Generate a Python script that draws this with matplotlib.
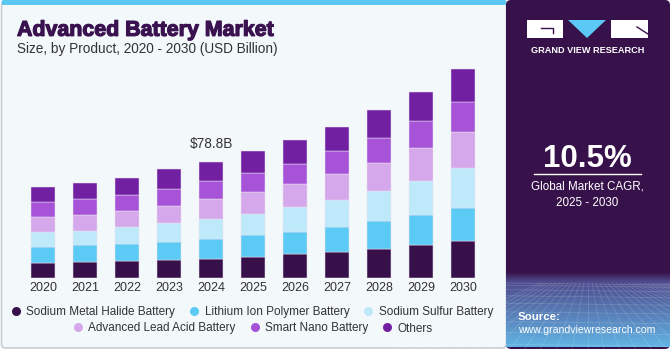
import matplotlib
matplotlib.use("Agg")
import matplotlib.pyplot as plt
from matplotlib.patches import FancyBboxPatch, Rectangle, Polygon
from matplotlib.lines import Line2D
import matplotlib.patheffects as pe
import numpy as np

# ---------------- data ----------------
years = ["2020", "2021", "2022", "2023", "2024", "2025", "2026", "2027", "2028", "2029", "2030"]
series_names = ["Sodium Metal Halide Battery", "Lithium Ion Polymer Battery", "Sodium Sulfur Battery",
                "Advanced Lead Acid Battery", "Smart Nano Battery", "Others"]
sodium_metal_halide = [10.1, 10.8, 11.5, 12.4, 13.0, 14.4, 16.2, 17.8, 19.6, 22.3, 25.2]
lithium_ion_polymer = [11.3, 11.5, 11.5, 12.2, 13.7, 14.9, 15.1, 16.9, 18.9, 20.7, 22.3]
sodium_sulfur = [9.9, 9.9, 11.5, 12.8, 13.5, 14.2, 16.9, 18.2, 20.3, 22.7, 26.8]
advanced_lead_acid = [9.9, 10.6, 10.8, 11.7, 13.1, 14.6, 15.3, 17.3, 19.1, 22.3, 24.8]
smart_nano = [10.3, 10.6, 10.8, 11.2, 12.4, 12.8, 13.7, 15.8, 16.9, 18.0, 19.8]
others = [10.3, 10.8, 11.9, 13.3, 13.1, 15.1, 16.2, 16.0, 18.7, 19.6, 22.3]
series_colors = ["#37104A", "#5BCBF5", "#BDE9FA", "#D5A8EC", "#A653D8", "#7020A0"]
annotated_year = "2024"
annotated_label = r"\$78.8B"
cagr_text = "10.5%"

series_values = [sodium_metal_halide, lithium_ion_polymer, sodium_sulfur,
                 advanced_lead_acid, smart_nano, others]

W, H = 671, 350
fig = plt.figure(figsize=(W / 100, H / 100), dpi=100)
fig.patch.set_facecolor("white")

# background / decoration axes in pixel coordinates
bg = fig.add_axes([0, 0, 1, 1])
bg.set_xlim(0, W)
bg.set_ylim(H, 0)
bg.axis("off")

FONT = "Liberation Sans"

# main panel
bg.add_patch(FancyBboxPatch((1.5, 2), 505, 346, boxstyle="round,pad=0,rounding_size=4",
                            facecolor="#F3F8FB", edgecolor="#C9CDD2", linewidth=1.2, zorder=1))
bg.add_patch(FancyBboxPatch((1.5, 0), 505, 5, boxstyle="round,pad=0,rounding_size=2",
                            facecolor="#5BC8F2", edgecolor="none", zorder=2))

# right panel
bg.add_patch(FancyBboxPatch((506, 0), 164, 349, boxstyle="round,pad=0,rounding_size=5",
                            facecolor="#37114A", edgecolor="none", zorder=2))
# gradient at bottom of right panel
grad = np.linspace(0, 1, 100)
c0 = np.array([0x37, 0x11, 0x4A]) / 255
c1 = np.array([0x4E, 0x4A, 0x8C]) / 255
c2 = np.array([0x62, 0xB4, 0xE4]) / 255
rows = []
for t in grad:
    if t < 0.12:
        rows.append(c0 + (c1 - c0) * (t / 0.12))
    else:
        rows.append(c1 + (c2 - c1) * ((t - 0.12) / 0.88))
img = np.array(rows)[:, None, :].repeat(2, axis=1)
bg.imshow(img, extent=(506, 670, 347, 272), aspect="auto", zorder=3, interpolation="bilinear")
# perspective grid
for k in range(-12, 25):
    x0 = 588 + k * 4
    x1 = 588 + k * 16
    bg.plot([x0, x1], [283, 350], color="white", alpha=0.18, lw=0.5, zorder=4)
for j in range(10):
    yy = 283 + (j ** 1.6) * 2.2
    bg.plot([506, 670], [yy, yy + 2], color="white", alpha=0.18, lw=0.5, zorder=4)
bg.add_patch(Rectangle((669.5, 0), 2, 350, facecolor="white", edgecolor="none", zorder=5))
bg.add_patch(Rectangle((506, 348.5), 166, 2, facecolor="white", edgecolor="none", zorder=5))

# logo
bg.add_patch(Rectangle((527, 20), 36, 18, facecolor="white", edgecolor="none", zorder=6))
bg.plot([541, 553, 553], [28, 28, 33], color="#37114A", lw=1.0, zorder=7)
bg.add_patch(Polygon([(568, 20), (606, 20), (587, 38)], closed=True, facecolor="#5BC8F5",
                     edgecolor="none", zorder=6))
bg.add_patch(Rectangle((611, 20), 37, 18, facecolor="white", edgecolor="none", zorder=6))
bg.plot([637, 648], [27, 34], color="#37114A", lw=1.0, zorder=7)
bg.text(587.5, 53.3, "GRAND VIEW RESEARCH", color="white", fontsize=6.6, fontweight="bold",
        family=FONT, ha="center", va="baseline", zorder=7)

# CAGR
bg.text(587.5, 166.7, cagr_text, color="white", fontsize=22.5, fontweight="bold", family=FONT,
        ha="center", va="baseline", zorder=7)
bg.plot([534, 641], [173.5, 173.5], color="white", lw=1.0, zorder=7)
bg.text(587.5, 189.5, "Global Market CAGR,", color="white", fontsize=8.4, family=FONT,
        ha="center", va="baseline", zorder=7)
bg.text(587.5, 205.7, "2025 - 2030", color="white", fontsize=8.4, family=FONT,
        ha="center", va="baseline", zorder=7)
bg.text(518, 320, "Source:", color="white", fontsize=8.2, fontweight="bold", family=FONT,
        ha="left", va="baseline", zorder=7)
bg.text(518, 333, "www.grandviewresearch.com", color="white", fontsize=7.6, family=FONT,
        ha="left", va="baseline", zorder=7)

# titles
bg.text(17, 35.8, "Advanced Battery Market", color="#3A1250", fontsize=15.4, fontweight="bold",
        family=FONT, ha="left", va="baseline", zorder=7,
        path_effects=[pe.withStroke(linewidth=0.9, foreground="#3A1250")])
bg.text(17, 53.3, "Size, by Product, 2020 - 2030 (USD Billion)", color="#333333", fontsize=9.8,
        family=FONT, ha="left", va="baseline", zorder=7)

# ---------------- chart ----------------
ax = fig.add_axes([22 / W, (H - 278.3) / H, 462 / W, 222 / H])
ax.set_facecolor("none")
x = np.arange(len(years))
bottom = np.zeros(len(years))
for name, vals, col in zip(series_names, series_values, series_colors):
    ax.bar(x, vals, bottom=bottom, width=0.57, color=col, edgecolor="#E8E0F0",
           linewidth=0.35, label=name, zorder=3)
    bottom = bottom + np.array(vals)
ax.set_xlim(-0.5, len(years) - 0.5)
ax.set_ylim(0, 150)
for s in ax.spines.values():
    s.set_visible(False)
ax.set_yticks([])
ax.set_xticks(x)
ax.set_xticklabels(years, fontsize=9, family=FONT, color="#333333")
ax.tick_params(axis="x", length=0, pad=2.5)

idx = years.index(annotated_year)
ax.annotate(annotated_label, xy=(idx, bottom[idx]), xytext=(0, 8), textcoords="offset points",
            ha="center", va="bottom", fontsize=9.8, family=FONT, color="#333333")

# legend (two centered rows)
handles = [Line2D([], [], marker="o", linestyle="none", markersize=6.5, markerfacecolor=c,
                  markeredgecolor="none") for c in series_colors]
leg_kw = dict(frameon=False, ncol=3, handlelength=0.8, handletextpad=0.5, columnspacing=1.2,
              prop={"family": FONT, "size": 8.5}, labelcolor="#333333", borderpad=0,
              loc="center")
leg1 = fig.legend(handles[:3], series_names[:3], bbox_to_anchor=(252 / W, 1 - 312 / H), **leg_kw)
leg2 = fig.legend(handles[3:], series_names[3:], bbox_to_anchor=(253 / W, 1 - 328.5 / H), **leg_kw)

fig.savefig("out.png", dpi=100, facecolor="white")
